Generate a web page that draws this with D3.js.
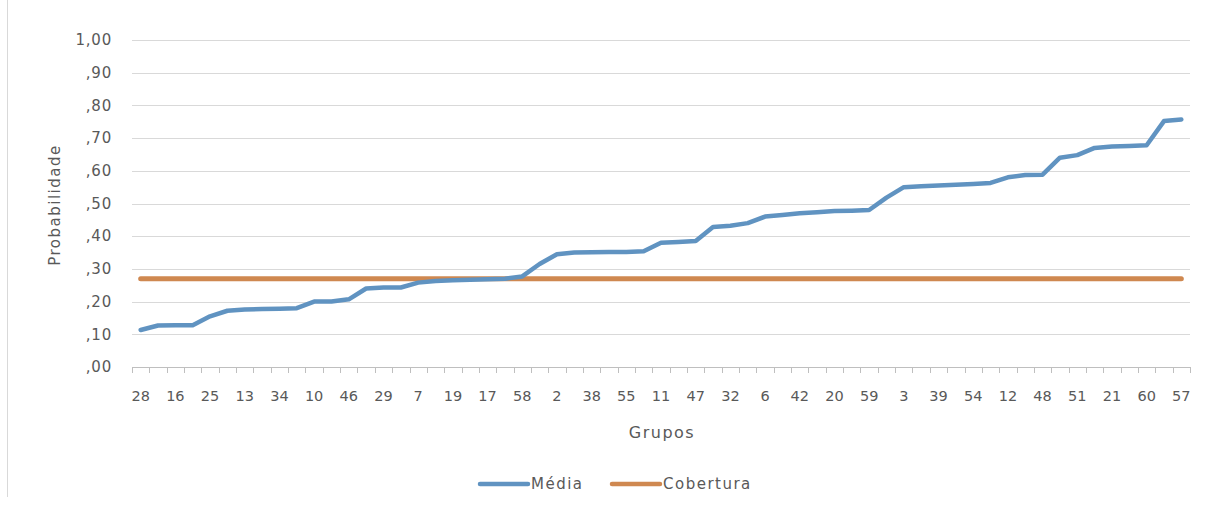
<!DOCTYPE html>
<meta charset="utf-8">
<style>
body { margin: 0; background: #fff; }
svg text { font-family: "DejaVu Sans", sans-serif; fill: #595959; }
</style>
<svg width="1205" height="508"></svg>
<script src="https://d3js.org/d3.v7.min.js"></script>
<script>

// groups, ordered by mean probability (only every other label is printed)
let grupos = ["28","1","16","4","25","5","13","8","34","9","10","14","46","15","29","18","7","22","19","23",
              "17","24","58","26","2","27","38","30","55","31","11","33","47","35","32","36","6","37","42","40",
              "20","41","59","43","3","44","39","45","54","49","12","50","48","52","51","53","21","56","60","61","57"];

let media = [0.113,0.127,0.128,0.128,0.155,0.172,0.176,0.177,0.178,0.180,
             0.200,0.200,0.207,0.240,0.243,0.243,0.258,0.263,0.265,0.267,
             0.268,0.270,0.277,0.315,0.345,0.350,0.351,0.352,0.352,0.354,
             0.380,0.382,0.385,0.428,0.432,0.440,0.460,0.465,0.470,0.473,
             0.477,0.478,0.480,0.518,0.550,0.553,0.555,0.557,0.560,0.563,
             0.580,0.587,0.588,0.640,0.648,0.670,0.674,0.676,0.678,0.752,0.757];

let cobertura = grupos.map(() => 0.27);

let yTicks = [0,0.1,0.2,0.3,0.4,0.5,0.6,0.7,0.8,0.9,1];
let yTickLabels = [",00",",10",",20",",30",",40",",50",",60",",70",",80",",90","1,00"];

let blue = "#6093c1", orange = "#cf8850";

let svg = d3.select("svg");

// chart frame edge on the left
svg.append("line").attr("x1", 7.5).attr("x2", 7.5).attr("y1", 0).attr("y2", 497)
    .attr("stroke", "#d9d9d9");

let x = d3.scaleBand().domain(grupos).range([132, 1190]);
let y = d3.scaleLinear().domain([0, 1]).range([367, 40]);
let cx = d => x(d) + x.bandwidth() / 2;

// gridlines
svg.append("g").selectAll("line").data(yTicks.slice(1)).enter().append("line")
    .attr("x1", 132).attr("x2", 1190)
    .attr("y1", d => Math.round(y(d)) + 0.5).attr("y2", d => Math.round(y(d)) + 0.5)
    .attr("stroke", "#d9d9d9").attr("stroke-width", 1.2);

// y labels
svg.append("g").selectAll("text").data(yTicks).enter().append("text")
    .attr("x", 112).attr("y", d => y(d)).attr("dy", "0.35em")
    .attr("text-anchor", "end").style("font-size", "15px").style("letter-spacing", "0.8px")
    .text((d, i) => yTickLabels[i]);

// x axis
let xAxis = d3.axisBottom(x).tickSize(0).tickFormat((d, i) => i % 2 == 0 ? d : "");
let gx = svg.append("g").attr("transform", "translate(0,367)").call(xAxis);
gx.select(".domain").attr("stroke", "#bfbfbf").attr("stroke-width", 1.2);
gx.selectAll("text").attr("dy", 0).attr("y", 34).style("font-size", "14.5px")
    .style("font-family", "'DejaVu Sans', sans-serif").attr("fill", "#595959");

// ticks at category boundaries
let edges = grupos.map(d => x(d)).concat([x.range()[1]]);
svg.append("g").selectAll("line").data(edges).enter().append("line")
    .attr("x1", d => Math.round(d) + 0.5).attr("x2", d => Math.round(d) + 0.5)
    .attr("y1", 367).attr("y2", 373).attr("stroke", "#bfbfbf");

let line = d3.line().x((d, i) => cx(grupos[i])).y(d => y(d));

svg.append("path").datum(cobertura).attr("d", line)
    .attr("fill", "none").attr("stroke", orange).attr("stroke-width", 5).attr("stroke-linecap", "round");

svg.append("path").datum(media).attr("d", line)
    .attr("fill", "none").attr("stroke", blue).attr("stroke-width", 4.5)
    .attr("stroke-linecap", "round").attr("stroke-linejoin", "round");

// axis titles
svg.append("text").attr("x", 662).attr("y", 438).attr("text-anchor", "middle")
    .style("font-size", "16px").style("letter-spacing", "1.5px").text("Grupos");
svg.append("text").attr("transform", "translate(60,205) rotate(-90)").attr("text-anchor", "middle")
    .style("font-size", "15px").style("letter-spacing", "1.5px").text("Probabilidade");

// legend
let legend = [["Média", blue, 479], ["Cobertura", orange, 611]];
let lg = svg.append("g").selectAll("g").data(legend).enter().append("g")
    .attr("transform", d => "translate(" + d[2] + ",484)");
lg.append("line").attr("x1", 1).attr("x2", 49).attr("stroke", d => d[1])
    .attr("stroke-width", 4.5).attr("stroke-linecap", "round");
lg.append("text").attr("x", 52).attr("dy", "0.35em").style("font-size", "15px")
    .style("letter-spacing", "1.5px").text(d => d[0]);

</script>
